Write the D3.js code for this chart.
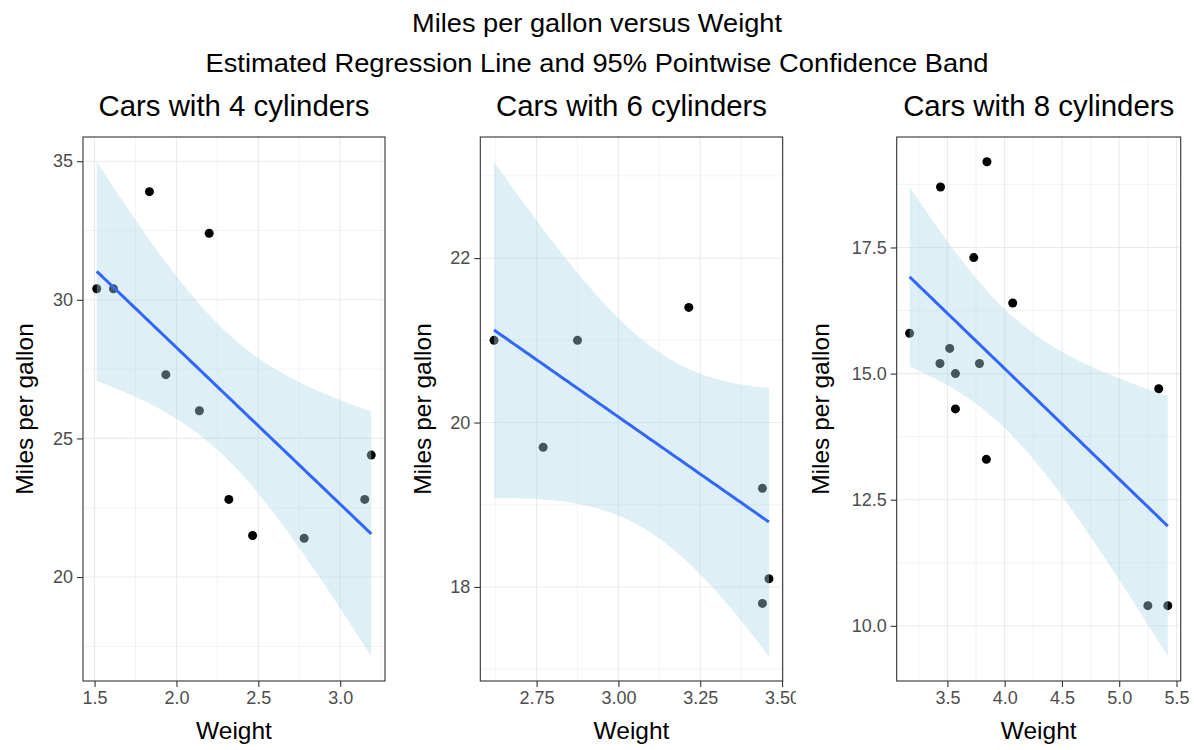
<!DOCTYPE html>
<html>
<head>
<meta charset="utf-8">
<script src="https://cdn.jsdelivr.net/npm/d3@7"></script>
<style>
  body { margin: 0; background: #fff; }
  svg { display: block; font-family: "Liberation Sans", Arial, sans-serif; }
</style>
</head>
<body>
<div id="chart"></div>
<script>
// mtcars, split by number of cylinders
const wt4 = [2.320, 3.190, 3.150, 2.200, 1.615, 1.835, 2.465, 1.935, 2.140, 1.513, 2.780];
const mpg4 = [22.8, 24.4, 22.8, 32.4, 30.4, 33.9, 21.5, 27.3, 26.0, 30.4, 21.4];

const wt6 = [2.620, 2.875, 3.215, 3.460, 3.440, 3.440, 2.770];
const mpg6 = [21.0, 21.0, 21.4, 18.1, 19.2, 17.8, 19.7];

const wt8 = [3.440, 3.570, 4.070, 3.730, 3.780, 5.250, 5.424, 5.345, 3.520, 3.435, 3.840, 3.845, 3.170, 3.570];
const mpg8 = [18.7, 14.3, 16.4, 17.3, 15.2, 10.4, 10.4, 14.7, 15.5, 15.2, 13.3, 19.2, 15.8, 15.0];

const panelTitles = ["Cars with 4 cylinders", "Cars with 6 cylinders", "Cars with 8 cylinders"];
const tCrit = [2.262157, 2.570582, 2.178813]; // t(0.975, n-2)

const xTicks4 = [1.5, 2.0, 2.5, 3.0];
const xTicks6 = [2.75, 3.00, 3.25, 3.50];
const xTicks8 = [3.5, 4.0, 4.5, 5.0, 5.5];
const yTicks4 = [20, 25, 30, 35];
const yTicks6 = [18, 20, 22];
const yTicks8 = [10.0, 12.5, 15.0, 17.5];
const xFormats = [".1f", ".2f", ".1f"];
const yFormats = ["d", "d", ".1f"];

const width = 1194, height = 750;
const svg = d3.select("#chart").append("svg")
  .attr("width", width)
  .attr("height", height);

// titles
svg.append("text")
  .attr("x", 597).attr("y", 32)
  .attr("text-anchor", "middle")
  .attr("textLength", 370).attr("lengthAdjust", "spacingAndGlyphs")
  .style("font-size", "25px")
  .text("Miles per gallon versus Weight");
svg.append("text")
  .attr("x", 597).attr("y", 72)
  .attr("text-anchor", "middle")
  .attr("textLength", 783).attr("lengthAdjust", "spacingAndGlyphs")
  .style("font-size", "25px")
  .text("Estimated Regression Line and 95% Pointwise Confidence Band");

function fitLine(xs, ys, tq) {
  const n = xs.length;
  const xbar = d3.mean(xs), ybar = d3.mean(ys);
  const sxx = d3.sum(xs, x => (x - xbar) ** 2);
  const sxy = d3.sum(xs.map((x, i) => (x - xbar) * (ys[i] - ybar)));
  const b = sxy / sxx, a = ybar - b * xbar;
  const rss = d3.sum(xs.map((x, i) => (ys[i] - a - b * x) ** 2));
  const s = Math.sqrt(rss / (n - 2));
  const [lo, hi] = d3.extent(xs);
  return d3.range(80).map(i => {
    const x = lo + i * (hi - lo) / 79;
    const fit = a + b * x;
    const se = s * Math.sqrt(1 / n + (x - xbar) ** 2 / sxx);
    return { x, fit, lower: fit - tq * se, upper: fit + tq * se };
  });
}

function expand([a, b]) {
  const d = (b - a) * 0.05;
  return [a - d, b + d];
}

function minorOf(ticks) {
  const step = ticks[1] - ticks[0];
  const out = [];
  for (let v = ticks[0] - step / 2; v <= ticks[ticks.length - 1] + step; v += step) out.push(v);
  return out;
}

const panels = [
  { xs: wt4, ys: mpg4, xt: xTicks4, yt: yTicks4, left: 83, right: 385 },
  { xs: wt6, ys: mpg6, xt: xTicks6, yt: yTicks6, left: 480.3, right: 782.7 },
  { xs: wt8, ys: mpg8, xt: xTicks8, yt: yTicks8, left: 896.7, right: 1180.7 }
];
const plotTop = 137, plotBottom = 681;

panels.forEach((p, k) => {
  const vx = k * 398;
  const clipId = "vp" + k;
  svg.append("clipPath").attr("id", clipId)
    .append("rect").attr("x", vx).attr("y", 80).attr("width", 398).attr("height", 670);
  const g = svg.append("g").attr("clip-path", `url(#${clipId})`);

  const band = fitLine(p.xs, p.ys, tCrit[k]);

  const x = d3.scaleLinear()
    .domain(expand(d3.extent(p.xs)))
    .range([p.left, p.right]);
  const yExt = d3.extent([...p.ys, ...band.map(d => d.lower), ...band.map(d => d.upper)]);
  const y = d3.scaleLinear()
    .domain(expand(yExt))
    .range([plotBottom, plotTop]);

  const pClip = "pa" + k;
  svg.append("clipPath").attr("id", pClip)
    .append("rect").attr("x", p.left).attr("y", plotTop)
    .attr("width", p.right - p.left).attr("height", plotBottom - plotTop);
  const plot = g.append("g").attr("clip-path", `url(#${pClip})`);

  // grid
  const xd = x.domain(), yd = y.domain();
  minorOf(p.xt).filter(v => v >= xd[0] && v <= xd[1]).forEach(v => {
    plot.append("line").attr("x1", x(v)).attr("x2", x(v)).attr("y1", plotTop).attr("y2", plotBottom)
      .attr("stroke", "#ebebeb").attr("stroke-width", 0.6);
  });
  minorOf(p.yt).filter(v => v >= yd[0] && v <= yd[1]).forEach(v => {
    plot.append("line").attr("y1", y(v)).attr("y2", y(v)).attr("x1", p.left).attr("x2", p.right)
      .attr("stroke", "#ebebeb").attr("stroke-width", 0.6);
  });
  p.xt.forEach(v => {
    plot.append("line").attr("x1", x(v)).attr("x2", x(v)).attr("y1", plotTop).attr("y2", plotBottom)
      .attr("stroke", "#ebebeb").attr("stroke-width", 1.1);
  });
  p.yt.forEach(v => {
    plot.append("line").attr("y1", y(v)).attr("y2", y(v)).attr("x1", p.left).attr("x2", p.right)
      .attr("stroke", "#ebebeb").attr("stroke-width", 1.1);
  });

  // points
  plot.selectAll("circle")
    .data(p.xs.map((d, i) => [d, p.ys[i]]))
    .enter().append("circle")
    .attr("cx", d => x(d[0]))
    .attr("cy", d => y(d[1]))
    .attr("r", 4.5)
    .attr("fill", "#000");

  // confidence band
  plot.append("path")
    .datum(band)
    .attr("d", d3.area().x(d => x(d.x)).y0(d => y(d.lower)).y1(d => y(d.upper)))
    .attr("fill", "#add8e6")
    .attr("fill-opacity", 0.4);

  // regression line
  plot.append("path")
    .datum(band)
    .attr("d", d3.line().x(d => x(d.x)).y(d => y(d.fit)))
    .attr("fill", "none")
    .attr("stroke", "#3366ff")
    .attr("stroke-width", 3);

  // panel border
  g.append("rect")
    .attr("x", p.left).attr("y", plotTop)
    .attr("width", p.right - p.left).attr("height", plotBottom - plotTop)
    .attr("fill", "none").attr("stroke", "#333333").attr("stroke-width", 1.1);

  // axes
  const xAxis = g.append("g")
    .attr("transform", `translate(0,${plotBottom})`)
    .call(d3.axisBottom(x).tickValues(p.xt).tickFormat(d3.format(xFormats[k])).tickSize(6).tickPadding(4).tickSizeOuter(0));
  const yAxis = g.append("g")
    .attr("transform", `translate(${p.left},0)`)
    .call(d3.axisLeft(y).tickValues(p.yt).tickFormat(d3.format(yFormats[k])).tickSize(6).tickPadding(4).tickSizeOuter(0));
  [xAxis, yAxis].forEach(a => {
    a.select(".domain").remove();
    a.selectAll("line").attr("stroke", "#333333").attr("stroke-width", 1.1);
    a.selectAll("text").attr("fill", "#4d4d4d").style("font-size", "18px")
      .style("font-family", '"Liberation Sans", Arial, sans-serif');
  });

  // panel title
  g.append("text")
    .attr("x", (p.left + p.right) / 2).attr("y", 115.5)
    .attr("text-anchor", "middle")
    .style("font-size", "29.4px")
    .text(panelTitles[k]);

  // axis titles
  g.append("text")
    .attr("x", (p.left + p.right) / 2).attr("y", 739)
    .attr("text-anchor", "middle")
    .style("font-size", "24.5px")
    .text("Weight");
  g.append("text")
    .attr("transform", `translate(${vx + 33},${(plotTop + plotBottom) / 2}) rotate(-90)`)
    .attr("text-anchor", "middle")
    .style("font-size", "24.5px")
    .text("Miles per gallon");
});
</script>
</body>
</html>
